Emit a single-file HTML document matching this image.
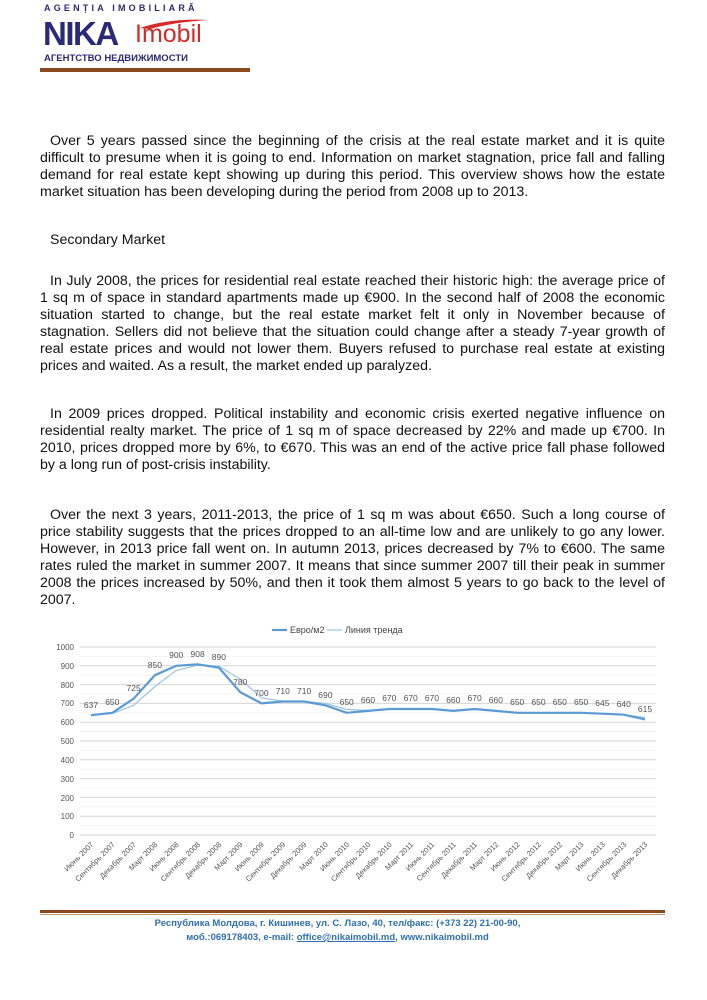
<!DOCTYPE html>
<html><head><meta charset="utf-8">
<style>
body{margin:0;background:#fff;}
.page{position:relative;width:707px;height:1000px;overflow:hidden;font-family:"Liberation Sans",sans-serif;}
.p{position:absolute;left:40px;width:625px;font-size:14.2px;line-height:17px;color:#111;text-align:justify;text-indent:10px;}
</style></head><body><div class="page">
<div style="position:absolute;left:44px;top:3px;font:bold 9px 'Liberation Sans',sans-serif;letter-spacing:3.2px;color:#2b2a78;">AGENȚIA IMOBILIARĂ</div>
<div style="position:absolute;left:43px;top:15px;font:bold 33px 'Liberation Sans',sans-serif;color:#2b2a78;letter-spacing:-1.5px;">NIKA</div>
<div style="position:absolute;left:135px;top:20px;font:25px 'Liberation Sans',sans-serif;color:#d42a2a;">Imobil</div>
<svg style="position:absolute;left:140px;top:18px" width="70" height="12"><path d="M0 10 Q30 0 68 2 Q35 4 10 11Z" fill="#d42a2a"/></svg>
<div style="position:absolute;left:44px;top:53px;font:bold 9.5px 'Liberation Sans',sans-serif;color:#2b2a78;">АГЕНТСТВО НЕДВИЖИМОСТИ</div>
<div style="position:absolute;left:40px;top:68px;width:210px;height:4px;background:#8a4a1e;"></div>

<div class="p" style="top:133px">Over 5 years passed since the beginning of the crisis at the real estate market and it is quite difficult to presume when it is going to end. Information on market stagnation, price fall and falling demand for real estate kept showing up during this period. This overview shows how the estate market situation has been developing during the period from 2008 up to 2013.</div>
<div class="p" style="top:232px">Secondary Market</div>
<div class="p" style="top:273px">In July 2008, the prices for residential real estate reached their historic high: the average price of 1 sq m of space in standard apartments made up €900. In the second half of 2008 the economic situation started to change, but the real estate market felt it only in November because of stagnation. Sellers did not believe that the situation could change after a steady 7-year growth of real estate prices and would not lower them. Buyers refused to purchase real estate at existing prices and waited. As a result, the market ended up paralyzed.</div>
<div class="p" style="top:406px">In 2009 prices dropped. Political instability and economic crisis exerted negative influence on residential realty market. The price of 1 sq m of space decreased by 22% and made up €700. In 2010, prices dropped more by 6%, to €670. This was an end of the active price fall phase followed by a long run of post-crisis instability.</div>
<div class="p" style="top:507px">Over the next 3 years, 2011-2013, the price of 1 sq m was about €650. Such a long course of price stability suggests that the prices dropped to an all-time low and are unlikely to go any lower. However, in 2013 price fall went on. In autumn 2013, prices decreased by 7% to €600. The same rates ruled the market in summer 2007. It means that since summer 2007 till their peak in summer 2008 the prices increased by 50%, and then it took them almost 5 years to go back to the level of 2007.</div>

<svg style="position:absolute;left:0;top:0" width="707" height="1000" font-family="Liberation Sans, sans-serif">
<g stroke="#ececec" stroke-width="0.6">
<line x1="80" x2="656" y1="656.4" y2="656.4"/><line x1="80" x2="656" y1="675.2" y2="675.2"/><line x1="80" x2="656" y1="694" y2="694"/><line x1="80" x2="656" y1="712.8" y2="712.8"/><line x1="80" x2="656" y1="731.6" y2="731.6"/><line x1="80" x2="656" y1="750.4" y2="750.4"/><line x1="80" x2="656" y1="769.2" y2="769.2"/><line x1="80" x2="656" y1="788" y2="788"/><line x1="80" x2="656" y1="806.8" y2="806.8"/><line x1="80" x2="656" y1="825.6" y2="825.6"/>
</g>
<g stroke="#d6d6d6" stroke-width="1">
<line x1="80" x2="656" y1="647" y2="647"/><line x1="80" x2="656" y1="665.8" y2="665.8"/><line x1="80" x2="656" y1="684.6" y2="684.6"/><line x1="80" x2="656" y1="703.4" y2="703.4"/><line x1="80" x2="656" y1="722.2" y2="722.2"/><line x1="80" x2="656" y1="741" y2="741"/><line x1="80" x2="656" y1="759.8" y2="759.8"/><line x1="80" x2="656" y1="778.6" y2="778.6"/><line x1="80" x2="656" y1="797.4" y2="797.4"/><line x1="80" x2="656" y1="816.2" y2="816.2"/><line x1="80" x2="656" y1="835" y2="835"/>
</g>
<g font-size="8" fill="#555" text-anchor="end">
<text x="74" y="650">1000</text><text x="74" y="669">900</text><text x="74" y="688">800</text><text x="74" y="706">700</text><text x="74" y="725">600</text><text x="74" y="744">500</text><text x="74" y="763">400</text><text x="74" y="782">300</text><text x="74" y="801">200</text><text x="74" y="819">100</text><text x="74" y="838">0</text>
</g>
<polyline fill="none" stroke="#9dc3e6" stroke-width="1.2" points="91,715.2 112.3,713.5 133.6,705.3 154.9,686.5 176.2,670.5 197.6,665.2 218.9,666.2 240.2,679 261.5,697.8 282.8,701.1 304.1,701.5 325.4,703.4 346.7,709.4 368,710.5 389.3,709.4 410.7,709 432,709.4 453.3,710.2 474.6,709.4 495.9,710.5 517.2,712.4 538.5,712.8 559.8,712.8 581.1,712.8 602.4,713.6 623.8,714.7 645,717.5"/>
<polyline fill="none" stroke="#5b9bd5" stroke-width="2.2" points="91,715.2 112.3,712.8 133.6,698.7 154.9,675.2 176.2,665.8 197.6,664.3 218.9,667.7 240.2,692.1 261.5,703.4 282.8,701.5 304.1,701.5 325.4,705.3 346.7,712.8 368,710.9 389.3,709 410.7,709 432,709 453.3,710.9 474.6,709 495.9,710.9 517.2,712.8 538.5,712.8 559.8,712.8 581.1,712.8 602.4,713.7 623.8,714.7 645,719.4"/>
<g font-size="8.5" fill="#555" text-anchor="middle">
<text x="91" y="708">637</text><text x="112.3" y="705">650</text><text x="133.6" y="691">725</text><text x="154.9" y="668">850</text><text x="176.2" y="658">900</text><text x="197.6" y="657">908</text><text x="218.9" y="660">890</text><text x="240.2" y="685">780</text><text x="261.5" y="696">700</text><text x="282.8" y="694">710</text><text x="304.1" y="694">710</text><text x="325.4" y="698">690</text><text x="346.7" y="705">650</text><text x="368" y="703">660</text><text x="389.3" y="701">670</text><text x="410.7" y="701">670</text><text x="432" y="701">670</text><text x="453.3" y="703">660</text><text x="474.6" y="701">670</text><text x="495.9" y="703">660</text><text x="517.2" y="705">650</text><text x="538.5" y="705">650</text><text x="559.8" y="705">650</text><text x="581.1" y="705">650</text><text x="602.4" y="706">645</text><text x="623.8" y="707">640</text><text x="645" y="712">615</text>
</g>
<g font-size="7.5" fill="#555" text-anchor="end">
<text transform="translate(94,845) rotate(-45)">Июнь 2007</text><text transform="translate(115.3,845) rotate(-45)">Сентябрь 2007</text><text transform="translate(136.6,845) rotate(-45)">Декабрь 2007</text><text transform="translate(157.9,845) rotate(-45)">Март 2008</text><text transform="translate(179.2,845) rotate(-45)">Июнь 2008</text><text transform="translate(200.6,845) rotate(-45)">Сентябрь 2008</text><text transform="translate(221.9,845) rotate(-45)">Декабрь 2008</text><text transform="translate(243.2,845) rotate(-45)">Март 2009</text><text transform="translate(264.5,845) rotate(-45)">Июнь 2009</text><text transform="translate(285.8,845) rotate(-45)">Сентябрь 2009</text><text transform="translate(307.1,845) rotate(-45)">Декабрь 2009</text><text transform="translate(328.4,845) rotate(-45)">Март 2010</text><text transform="translate(349.7,845) rotate(-45)">Июнь 2010</text><text transform="translate(371,845) rotate(-45)">Сентябрь 2010</text><text transform="translate(392.3,845) rotate(-45)">Декабрь 2010</text><text transform="translate(413.7,845) rotate(-45)">Март 2011</text><text transform="translate(435,845) rotate(-45)">Июнь 2011</text><text transform="translate(456.3,845) rotate(-45)">Сентябрь 2011</text><text transform="translate(477.6,845) rotate(-45)">Декабрь 2011</text><text transform="translate(498.9,845) rotate(-45)">Март 2012</text><text transform="translate(520.2,845) rotate(-45)">Июнь 2012</text><text transform="translate(541.5,845) rotate(-45)">Сентябрь 2012</text><text transform="translate(562.8,845) rotate(-45)">Декабрь 2012</text><text transform="translate(584.1,845) rotate(-45)">Март 2013</text><text transform="translate(605.4,845) rotate(-45)">Июнь 2013</text><text transform="translate(626.8,845) rotate(-45)">Сентябрь 2013</text><text transform="translate(648,845) rotate(-45)">Декабрь 2013</text>
</g>
<line x1="272" x2="287" y1="630" y2="630" stroke="#5b9bd5" stroke-width="2.2"/>
<text x="290" y="633" font-size="9" fill="#444">Евро/м2</text>
<line x1="327" x2="342" y1="630" y2="630" stroke="#9dc3e6" stroke-width="1.2"/>
<text x="345" y="633" font-size="9" fill="#444">Линия тренда</text>
</svg>

<div style="position:absolute;left:40px;top:910px;width:625px;height:3px;background:#8a4a1e;"></div>
<div style="position:absolute;left:40px;top:914px;width:625px;height:1px;background:#c89a70;"></div>
<div style="position:absolute;left:0;width:675px;top:917px;text-align:center;font:bold 9.5px/14px 'Liberation Sans',sans-serif;color:#2f6fb3;">Республика Молдова, г. Кишинев, ул. С. Лазо, 40, тел/факс: (+373 22) 21-00-90,<br>моб.:069178403, e-mail: <u>office@nikaimobil.md</u>, www.nikaimobil.md</div>
</div></body></html>
